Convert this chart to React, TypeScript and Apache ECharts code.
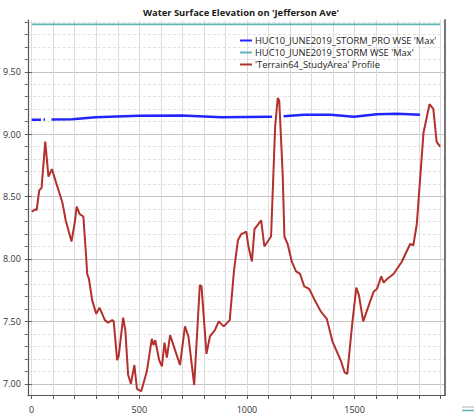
import React, { useEffect, useRef } from "react";
import * as echarts from "echarts";

const titleText = "Water Surface Elevation on 'Jefferson Ave'";
const seriesNames = [
  "HUC10_JUNE2019_STORM_PRO WSE 'Max'",
  "HUC10_JUNE2019_STORM WSE 'Max'",
  "'Terrain64_StudyArea' Profile",
];

const terrainX = [0,20,23,35,46,63,78,94,112,143,158,185,200,209,223,240,251,258,266,281,300,315,340,355,374,381,397,404,425,435,448,461,477,489,509,535,558,566,574,592,605,617,628,643,666,689,712,728,755,781,789,812,828,851,869,892,920,940,958,974,997,1007,1023,1035,1066,1081,1104,1112,1131,1143,1150,1166,1174,1189,1208,1228,1247,1266,1289,1312,1343,1371,1397,1435,1454,1466,1489,1508,1520,1540,1558,1589,1604,1624,1635,1651,1681,1720,1758,1773,1789,1804,1820,1848,1866,1881,1897];
const terrainY = [8.38,8.40,8.39,8.55,8.57,8.94,8.66,8.72,8.62,8.45,8.31,8.14,8.29,8.42,8.36,8.34,8.07,7.88,7.84,7.67,7.56,7.61,7.51,7.49,7.51,7.50,7.19,7.22,7.53,7.43,7.07,7.00,7.15,6.96,6.94,7.10,7.36,7.31,7.35,7.19,7.14,7.33,7.21,7.39,7.27,7.15,7.46,7.38,6.99,7.79,7.78,7.24,7.38,7.43,7.50,7.46,7.51,7.91,8.15,8.20,8.22,8.10,7.98,8.24,8.31,8.10,8.16,8.18,9.06,9.29,9.27,8.68,8.18,8.12,7.98,7.90,7.88,7.78,7.76,7.68,7.58,7.52,7.34,7.19,7.09,7.08,7.48,7.77,7.71,7.50,7.59,7.74,7.76,7.86,7.81,7.84,7.88,7.98,8.12,8.11,8.28,8.63,9.01,9.24,9.20,8.94,8.90];

const proX = [0,20,43,49,55,62,77,92,189,297,497,697,882,1117,1143,1170,1266,1389,1497,1604,1697,1804];
const proY: (number | null)[] = [9.115,9.116,9.116,null,9.117,9.117,null,9.118,9.12,9.135,9.148,9.15,9.135,9.14,null,9.143,9.156,9.156,9.14,9.16,9.163,9.155];

const stormX = [0, 1897];
const stormY = [9.88, 9.88];

const xMajorLabels = [0, 500, 1000, 1500];
const yMajorLabels = [7.0, 7.5, 8.0, 8.5, 9.0, 9.5];

const X_MIN = -18;
const X_MAX = 1920;
const Y_MIN = 6.91;
const Y_MAX = 9.915;

export default function App() {
  const ref = useRef<HTMLDivElement>(null);
  useEffect(() => {
    if (!ref.current) return;
    const chart = echarts.init(ref.current, null, { renderer: "svg" });
    const xMinorTicks: number[] = [];
    for (let v = 0; v <= 1900; v += 100) xMinorTicks.push(v);
    const yMinorTicks: number[] = [];
    for (let i = 70; i <= 99; i++) yMinorTicks.push(i / 10);
    const font = "'Open Sans', 'Noto Sans', sans-serif";
    const option: any = {
      animation: false,
      backgroundColor: "#ffffff",
      title: {
        text: titleText,
        left: 236,
        textAlign: "center",
        top: 3,
        textStyle: { fontSize: 9.4, fontWeight: "bold", color: "#1a1a1a", fontFamily: font },
      },
      legend: {
        orient: "vertical",
        left: 235,
        top: 30,
        itemWidth: 12,
        itemHeight: 2,
        itemGap: 1,
        icon: "rect",
        data: seriesNames,
        textStyle: { fontSize: 9.3, color: "#222", fontFamily: font, lineHeight: 11, padding: [0, 0, 0, -2] },
      },
      grid: { left: 25, right: 29, top: 20, bottom: 23, containLabel: false },
      xAxis: [
        {
          type: "value",
          min: X_MIN,
          max: X_MAX,
          position: "bottom",
          axisLine: { show: true, onZero: false, lineStyle: { color: "#555", width: 1.2 } },
          axisTick: { show: true, length: 4, customValues: xMinorTicks, lineStyle: { color: "#555" } },
          axisLabel: {
            customValues: xMajorLabels,
            formatter: (v: number) => String(v),
            fontSize: 9,
            color: "#333",
            fontFamily: font,
            margin: 10,
          },
          splitLine: { show: true, lineStyle: { color: "#dcdcdc", width: 1 } },
        },
      ],
      yAxis: [
        {
          type: "value",
          min: Y_MIN,
          max: Y_MAX,
          position: "left",
          axisLine: { show: true, onZero: false, lineStyle: { color: "#555", width: 1.2 } },
          axisTick: { show: true, length: 3, customValues: yMinorTicks, lineStyle: { color: "#666" } },
          axisLabel: { show: false },
          splitLine: { show: true, lineStyle: { color: "#e2e2e2", width: 1, type: [3, 2] } },
        },
        {
          type: "value",
          min: Y_MIN,
          max: Y_MAX,
          position: "left",
          axisLine: { show: false },
          axisTick: { show: true, length: 5, customValues: yMajorLabels, lineStyle: { color: "#555" } },
          axisLabel: {
            customValues: yMajorLabels,
            formatter: (v: number) => v.toFixed(2),
            fontSize: 9,
            color: "#333",
            fontFamily: font,
            margin: 7,
          },
          splitLine: { show: true, lineStyle: { color: "#c4c4c4", width: 1 } },
        },
        {
          type: "value",
          min: Y_MIN,
          max: Y_MAX,
          position: "right",
          axisLine: { show: true, onZero: false, lineStyle: { color: "#777", width: 2 } },
          axisTick: { show: false },
          axisLabel: { show: false },
          splitLine: { show: false },
        },
      ],
      series: [
        {
          name: seriesNames[0],
          type: "line",
          yAxisIndex: 0,
          showSymbol: false,
          connectNulls: false,
          lineStyle: { color: "#2424ff", width: 2.5 },
          itemStyle: { color: "#2424ff" },
          data: proX.map((x, i) => [x, proY[i] === null ? "-" : proY[i]]),
          z: 3,
        },
        {
          name: seriesNames[1],
          type: "line",
          yAxisIndex: 0,
          showSymbol: false,
          lineStyle: { color: "#5cb6b6", width: 1.6 },
          itemStyle: { color: "#5cb6b6" },
          data: stormX.map((x, i) => [x, stormY[i]]),
          z: 2,
        },
        {
          name: seriesNames[2],
          type: "line",
          yAxisIndex: 0,
          showSymbol: false,
          lineStyle: { color: "#b3302d", width: 2 },
          itemStyle: { color: "#b3302d" },
          data: terrainX.map((x, i) => [x, terrainY[i]]),
          z: 4,
        },
      ],
      graphic: [
        { type: "line", shape: { x1: 462, y1: 407, x2: 474, y2: 407 }, style: { stroke: "#b0b0b0", lineWidth: 1 } },
        { type: "line", shape: { x1: 462, y1: 410.5, x2: 474, y2: 410.5 }, style: { stroke: "#5cb6b6", lineWidth: 1.5 } },
      ],
    };
    chart.setOption(option);
    return () => chart.dispose();
  }, []);
  return <div ref={ref} style={{ width: 474, height: 418, position: "fixed", left: 0, top: 0 }} />;
}
